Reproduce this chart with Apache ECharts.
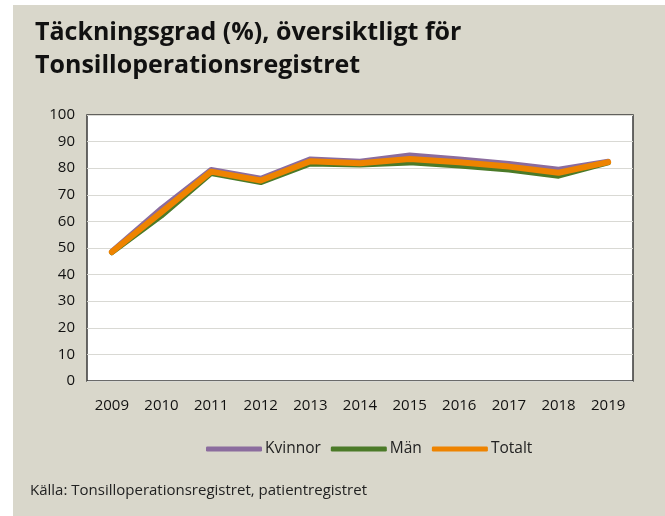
<!DOCTYPE html>
<html lang="sv">
<head>
<meta charset="UTF-8">
<title>Täckningsgrad</title>
<script src="https://cdn.jsdelivr.net/npm/echarts@6/dist/echarts.min.js"></script>
<style>
  body { margin: 0; padding: 0; background: #ffffff; }
  #chart { width: 665px; height: 516px; }
</style>
</head>
<body>
<div id="chart"></div>
<script>
  // data
  var years = ['2009', '2010', '2011', '2012', '2013', '2014', '2015', '2016', '2017', '2018', '2019'];
  var kvinnor = [48.8, 65.0, 79.5, 76.2, 83.5, 82.6, 85.0, 83.5, 81.8, 79.6, 82.6];
  var man = [48.2, 62.0, 78.0, 74.6, 81.6, 81.2, 82.0, 80.8, 79.3, 77.0, 82.0];
  var totalt = [48.5, 63.5, 78.7, 75.4, 82.6, 81.9, 83.5, 82.2, 80.6, 78.3, 82.3];
  var yTicks = [0, 10, 20, 30, 40, 50, 60, 70, 80, 90, 100];

  var font = "'Open Sans', 'DejaVu Sans', sans-serif";
  var chart = echarts.init(document.getElementById('chart'));

  chart.setOption({
    animation: false,
    backgroundColor: '#ffffff',
    textStyle: { fontFamily: font },
    graphic: [
      {
        type: 'rect', z: -10, silent: true,
        shape: { x: 13, y: 5, width: 660, height: 520 },
        style: { fill: '#d9d7cb' }
      },
      {
        type: 'text', left: 35, top: 16,
        style: {
          text: 'Täckningsgrad (%), översiktligt för\nTonsilloperationsregistret',
          font: 'bold 25px ' + font, fill: '#111111', lineHeight: 33
        }
      },
      {
        type: 'text', left: 30, top: 483,
        style: {
          text: 'Källa: Tonsilloperationsregistret, patientregistret',
          font: '15px ' + font, fill: '#222222'
        }
      }
    ],
    grid: {
      left: 87, right: 32, top: 115, bottom: 135,
      show: true, backgroundColor: '#ffffff', borderColor: '#3a3a3a', borderWidth: 1.5
    },
    legend: {
      top: 436, left: 201,
      itemWidth: 56, itemHeight: 5, itemGap: 10,
      icon: 'roundRect',
      textStyle: { fontSize: 15.5, color: '#222222', fontFamily: font, padding: [0, 0, 0, -2] },
      data: ['Kvinnor', 'Män', 'Totalt']
    },
    xAxis: {
      type: 'category',
      data: years,
      boundaryGap: true,
      axisLine: { show: false },
      axisTick: { show: false },
      axisLabel: { fontSize: 15, color: '#111111', margin: 17 }
    },
    yAxis: {
      type: 'value',
      min: yTicks[0], max: yTicks[yTicks.length - 1], interval: 10,
      axisLine: { show: false },
      axisTick: { show: false },
      axisLabel: { fontSize: 15, color: '#111111', margin: 12 },
      splitLine: { lineStyle: { color: '#d9d9d4', width: 1 } }
    },
    series: [
      {
        name: 'Kvinnor', type: 'line', data: kvinnor, symbol: 'none', z: 2,
        lineStyle: { color: '#8b6c9e', width: 5, cap: 'round', join: 'round' },
        itemStyle: { color: '#8b6c9e' }
      },
      {
        name: 'Män', type: 'line', data: man, symbol: 'none', z: 3,
        lineStyle: { color: '#4b7a28', width: 5, cap: 'round', join: 'round' },
        itemStyle: { color: '#4b7a28' }
      },
      {
        name: 'Totalt', type: 'line', data: totalt, symbol: 'none', z: 4,
        lineStyle: { color: '#ee8300', width: 6, cap: 'round', join: 'round' },
        itemStyle: { color: '#ee8300' }
      }
    ]
  });
</script>
</body>
</html>
